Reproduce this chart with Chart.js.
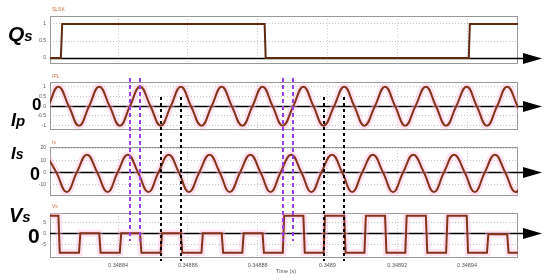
<!DOCTYPE html>
<html>
<head>
<meta charset="utf-8">
<script src="https://cdn.jsdelivr.net/npm/chart.js@4.4.1/dist/chart.umd.min.js"></script>
<style>
  body { margin: 0; background: #fff; }
  #wrap { position: relative; width: 550px; height: 280px; overflow: hidden; font-family: "Liberation Sans", Arial, sans-serif; }
  #wrap canvas { position: absolute; left: 0; }
  .big { position: absolute; font-weight: bold; font-style: italic; line-height: 1; color: #000; white-space: nowrap; z-index: 2; }
  .zero { position: absolute; font-weight: bold; line-height: 1; color: #000; z-index: 2; }
  .tag { position: absolute; font-size: 5px; line-height: 1; color: #c8784a; z-index: 2; }
</style>
</head>
<body>
<div id="wrap">
  <canvas id="qsChart" width="550" height="72" style="top:0"></canvas>
  <canvas id="ipChart" width="550" height="68" style="top:72px"></canvas>
  <canvas id="isChart" width="550" height="66" style="top:140px"></canvas>
  <canvas id="vsChart" width="550" height="74" style="top:206px"></canvas>

  <div class="big" style="left:8px;top:23px;font-size:21px">Q<span style="font-size:15px">s</span></div>
  <div class="big" style="left:11px;top:111px;font-size:18px">I<span style="font-size:15px">p</span></div>
  <div class="big" style="left:11px;top:145px;font-size:17px">I<span style="font-size:14px">s</span></div>
  <div class="big" style="left:9px;top:205px;font-size:20px">V<span style="font-size:15px">s</span></div>
  <div class="zero" style="left:32px;top:96px;font-size:17px">0</div>
  <div class="zero" style="left:30px;top:165px;font-size:18px">0</div>
  <div class="zero" style="left:28px;top:225px;font-size:21px">0</div>

  <div class="tag" style="left:52px;top:7px">SLSK</div>
  <div class="tag" style="left:52px;top:74px">IPL</div>
  <div class="tag" style="left:52px;top:140px">Is</div>
  <div class="tag" style="left:52px;top:204px">Vs</div>
  <div class="tag" style="left:276px;top:269px;color:#555;font-size:5.5px">Time (s)</div>
</div>

<script>
// 时间轴：单位 µs，从 0.34882 s 起算
const T_MIN = 0.5;
const T_MAX = 134.6;
const timeTicks = [20, 40, 60, 80, 100, 120];
const timeLabels = ['0.34884', '0.34886', '0.34888', '0.3489', '0.34892', '0.34894'];

// Qs 驱动信号
const qsTime = [0.5, 3.6, 4.0, 62.0, 62.3, 120.5, 120.8, 134.6];
const qsValue = [0, 0, 1, 1, 0, 0, 1, 1];
const qsTicks = [0, 0.5, 1];

// Ip 原边电流
const ipTime = [0.0, 2.9, 5.9, 8.8, 11.7, 14.6, 17.6, 20.5, 23.4, 26.3, 29.3, 32.2,
  35.1, 38.0, 40.9, 43.9, 46.8, 49.7, 52.6, 55.6, 58.5, 61.4, 64.3, 67.2,
  70.2, 73.1, 76.0, 78.9, 81.9, 84.8, 87.7, 90.6, 93.6, 96.5, 99.4, 102.3,
  105.2, 108.2, 111.1, 114.0, 116.9, 119.9, 122.8, 125.7, 128.6, 131.5, 134.5, 137.4];
const ipValue = [0, 1, 0, -1, 0, 1, 0, -1, 0, 1, 0, -1,
  0, 1, 0, -1, 0, 1, 0, -1, 0, 1, 0, -1,
  0, 1, 0, -1, 0, 1, 0, -1, 0, 1, 0, -1,
  0, 1, 0, -1, 0, 1, 0, -1, 0, 1, 0, -1];
const ipTicks = [-1, -0.5, 0, 0.5, 1];

// Is 副边电流
const isTime = [-0.6, 2.3, 5.3, 8.2, 11.1, 14.0, 17.0, 19.9, 22.8, 25.7, 28.7, 31.6,
  34.5, 37.4, 40.3, 43.3, 46.2, 49.1, 52.0, 55.0, 57.9, 60.8, 63.7, 66.6,
  69.6, 72.5, 75.4, 78.3, 81.3, 84.2, 87.1, 90.0, 93.0, 95.9, 98.8, 101.7,
  104.6, 107.6, 110.5, 113.4, 116.3, 119.3, 122.2, 125.1, 128.0, 130.9, 133.9, 136.8];
const isValue = [14.5, 0, -16.5, 0, 14.5, 0, -16.5, 0, 14.5, 0, -16.5, 0,
  14.5, 0, -16.5, 0, 14.5, 0, -16.5, 0, 14.5, 0, -16.5, 0,
  14.5, 0, -16.5, 0, 14.5, 0, -16.5, 0, 14.5, 0, -16.5, 0,
  14.5, 0, -16.5, 0, 14.5, 0, -16.5, 0, 14.5, 0, -16.5, 0];
const isTicks = [-10, 0, 10, 20];

// Vs 副边电压
const vsTime = [0.5, 2.9, 3.3, 8.8, 9.2, 14.6, 15.0, 20.5, 20.9, 26.3, 26.7, 32.2,
  32.6, 38.0, 38.4, 43.9, 44.3, 49.7, 50.1, 55.6, 56.0, 61.4, 61.8, 67.2,
  67.6, 73.1, 73.5, 78.9, 79.3, 84.8, 85.2, 90.6, 91.0, 96.5, 96.9, 102.3,
  102.7, 108.2, 108.6, 114.0, 114.4, 119.9, 120.3, 125.7, 126.1, 131.5, 131.9, 134.6];
const vsValue = [8, 8, -8.8, -8.8, 0, 0, -8.8, -8.8, 0, 0, -8.8, -8.8,
  0, 0, -8.8, -8.8, 0, 0, -8.8, -8.8, 0, 0, -8.8, -8.8,
  8, 8, -8.8, -8.8, 8, 8, -8.8, -8.8, 8, 8, -8.8, -8.8,
  8, 8, -8.8, -8.8, 8, 8, -8.8, -8.8, -0.4, -0.4, -8.8, -8.8];
const vsTicks = [-5, 0, 5];

// 虚线标记时刻
const purpleMarks = [23.4, 26.3, 67.2, 70.2];
const blackMarks = [32.2, 38.0, 78.9, 84.8];

function toPoints(xs, ys) {
  return xs.map((x, i) => ({ x: x, y: ys[i] }));
}

// 画框、带箭头的零轴、跨面板虚线
const scopePlugin = {
  id: 'scope',
  beforeDatasetsDraw(chart) {
    const { ctx, chartArea: a, scales } = chart;
    ctx.save();
    ctx.strokeStyle = '#999';
    ctx.lineWidth = 1;
    ctx.strokeRect(a.left + 0.5, a.top + 0.5, a.width - 1, a.height - 1);
    const y0 = Math.round(scales.y.getPixelForValue(0)) + 0.5;
    ctx.strokeStyle = '#000';
    ctx.lineWidth = 1.5;
    ctx.beginPath();
    ctx.moveTo(a.left, y0);
    ctx.lineTo(a.right + 6, y0);
    ctx.stroke();
    ctx.fillStyle = '#000';
    ctx.beginPath();
    ctx.moveTo(a.right + 5, y0 - 5.5);
    ctx.lineTo(a.right + 24, y0);
    ctx.lineTo(a.right + 5, y0 + 5.5);
    ctx.closePath();
    ctx.fill();
    ctx.restore();
  },
  afterDatasetsDraw(chart, args, opts) {
    const { ctx, scales } = chart;
    const bandTop = opts.bandTop;
    const groups = [
      { marks: purpleMarks, color: '#9b3fe6', y1: 78, y2: 241, dash: [4, 3] },
      { marks: blackMarks, color: '#000', y1: 97, y2: 261, dash: [3, 3] }
    ];
    ctx.save();
    ctx.lineWidth = 2;
    groups.forEach(g => {
      const top = Math.max(g.y1, bandTop);
      const bottom = Math.min(g.y2, bandTop + chart.height);
      if (top >= bottom) return;
      ctx.strokeStyle = g.color;
      ctx.setLineDash(g.dash);
      ctx.lineDashOffset = top - g.y1;
      g.marks.forEach(t => {
        const x = Math.round(scales.x.getPixelForValue(t));
        ctx.beginPath();
        ctx.moveTo(x, top - bandTop);
        ctx.lineTo(x, bottom - bandTop);
        ctx.stroke();
      });
    });
    ctx.restore();
  }
};

function makeScope(id, cfg) {
  const points = toPoints(cfg.xs, cfg.ys);
  const tension = cfg.smooth ? 0.45 : 0;
  const datasets = [{
    data: points,
    borderColor: cfg.color,
    borderWidth: 2,
    pointRadius: 0,
    tension: tension
  }];
  if (cfg.glow) {
    datasets.push({
      data: points,
      borderColor: 'rgba(255, 185, 222, 0.4)',
      borderWidth: 7,
      pointRadius: 0,
      tension: tension
    });
  }
  return new Chart(document.getElementById(id), {
    type: 'line',
    data: { datasets: datasets },
    options: {
      responsive: false,
      animation: false,
      layout: { padding: { top: cfg.padTop, bottom: cfg.padBottom, left: 0, right: 32 } },
      plugins: {
        legend: { display: false },
        tooltip: { enabled: false },
        scope: { bandTop: cfg.bandTop }
      },
      scales: {
        x: {
          type: 'linear',
          min: T_MIN,
          max: T_MAX,
          afterBuildTicks: s => { s.ticks = timeTicks.map(v => ({ value: v })); },
          afterFit: s => { s.height = cfg.showTime ? 22 : 0; },
          ticks: {
            display: !!cfg.showTime,
            autoSkip: false,
            maxRotation: 0,
            padding: 4,
            color: '#555',
            font: { size: 5.5, family: 'Liberation Sans' },
            callback: (v, i) => timeLabels[i]
          },
          grid: { color: '#cfcfcf', drawTicks: false },
          border: { display: false, dash: [1, 2] }
        },
        y: {
          min: cfg.min,
          max: cfg.max,
          afterBuildTicks: s => { s.ticks = cfg.ticks.map(v => ({ value: v })); },
          afterFit: s => { s.width = 50; },
          ticks: {
            padding: 4,
            color: '#555',
            font: { size: 5, family: 'Liberation Sans' },
            callback: v => String(v)
          },
          grid: { color: '#c4c4c4', drawTicks: false },
          border: { display: false, dash: [1, 2] }
        }
      }
    },
    plugins: [scopePlugin]
  });
}

makeScope('qsChart', { xs: qsTime, ys: qsValue, color: '#5e2a10', min: -0.176, max: 1.235, ticks: qsTicks, padTop: 16, padBottom: 8, bandTop: 0 });
makeScope('ipChart', { xs: ipTime, ys: ipValue, color: '#86331a', smooth: true, glow: true, min: -1.22, max: 1.24, ticks: ipTicks, padTop: 10, padBottom: 10, bandTop: 72 });
makeScope('isChart', { xs: isTime, ys: isValue, color: '#86331a', smooth: true, glow: true, min: -19.75, max: 20.9, ticks: isTicks, padTop: 7, padBottom: 10, bandTop: 140 });
makeScope('vsChart', { xs: vsTime, ys: vsValue, color: '#86331a', glow: true, min: -11.2, max: 9.2, ticks: vsTicks, padTop: 7, padBottom: 0, bandTop: 206, showTime: true });
</script>
</body>
</html>
